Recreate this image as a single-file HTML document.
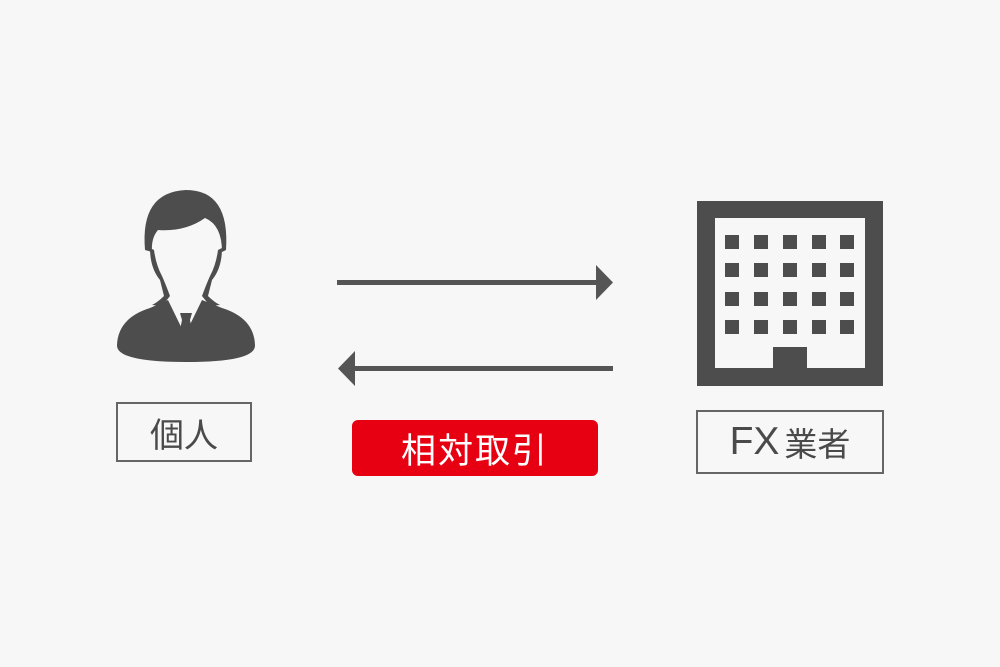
<!DOCTYPE html>
<html><head><meta charset="utf-8"><style>
body{margin:0;width:1000px;height:667px;background:#f7f7f7;overflow:hidden;position:relative;font-family:"Liberation Sans","Noto Sans CJK JP",sans-serif}
.box{position:absolute;border:2px solid #666;box-sizing:border-box;color:#4a4a4a;display:flex;align-items:center;justify-content:center;font-size:34px}
</style></head><body>
<svg width="1000" height="667" style="position:absolute;left:0;top:0">
 <g fill="#4d4d4d">
  <path d="M117 345 Q118 318 150 308 L168 300 L185 335 L202 300 L222 308 Q254 318 255 345 Q256 362 186 362 Q116 362 117 345Z"/>
  <path d="M145 250 Q140 192 186 190 Q230 190 226 250 L222 252 Q222 225 205 218 Q185 232 158 230 Q151 238 152 252Z"/>
  <path d="M150 248 Q150 268 160 280 L164 296 Q158 302 152 305 L162 306 L170 296 Q166 285 162 276 Q156 265 154 250Z" />
  <path d="M222 248 Q222 268 212 280 L208 296 Q214 302 220 305 L210 306 L202 296 Q206 285 210 276 Q216 265 218 250Z" />
  <path d="M180 313 L192 313 L190 320 L194 340 L186 348 L178 340 L182 320Z"/>
 </g>
 <g fill="#555">
  <rect x="337" y="280" width="262" height="5"/>
  <polygon points="596,265 613,282.5 596,300"/>
  <rect x="352" y="366" width="261" height="5"/>
  <polygon points="355,351 338,368.5 355,386"/>
 </g>
 <rect x="697" y="201" width="186" height="185" fill="#4d4d4d"/>
 <rect x="715" y="218" width="150" height="150" fill="#f7f7f7"/>
 <g fill="#4d4d4d">
  <rect x="725" y="235" width="14" height="14"/><rect x="754" y="235" width="14" height="14"/><rect x="783" y="235" width="14" height="14"/><rect x="812" y="235" width="14" height="14"/><rect x="840" y="235" width="14" height="14"/>
  <rect x="725" y="263" width="14" height="14"/><rect x="754" y="263" width="14" height="14"/><rect x="783" y="263" width="14" height="14"/><rect x="812" y="263" width="14" height="14"/><rect x="840" y="263" width="14" height="14"/>
  <rect x="725" y="292" width="14" height="14"/><rect x="754" y="292" width="14" height="14"/><rect x="783" y="292" width="14" height="14"/><rect x="812" y="292" width="14" height="14"/><rect x="840" y="292" width="14" height="14"/>
  <rect x="725" y="320" width="14" height="14"/><rect x="754" y="320" width="14" height="14"/><rect x="783" y="320" width="14" height="14"/><rect x="812" y="320" width="14" height="14"/><rect x="840" y="320" width="14" height="14"/>
  <rect x="773" y="347" width="34" height="22"/>
 </g>
</svg>
<div class="box" style="left:116px;top:402px;width:136px;height:60px">個人</div>
<div class="box" style="left:696px;top:410px;width:188px;height:64px;font-size:39px">FX<span style="font-size:33px;margin-left:5px">業者</span></div>
<div style="position:absolute;left:352px;top:420px;width:246px;height:56px;background:#e60012;border-radius:6px;color:#fff;font-size:35px;letter-spacing:2px;display:flex;align-items:center;justify-content:center">相対取引</div>
</body></html>
